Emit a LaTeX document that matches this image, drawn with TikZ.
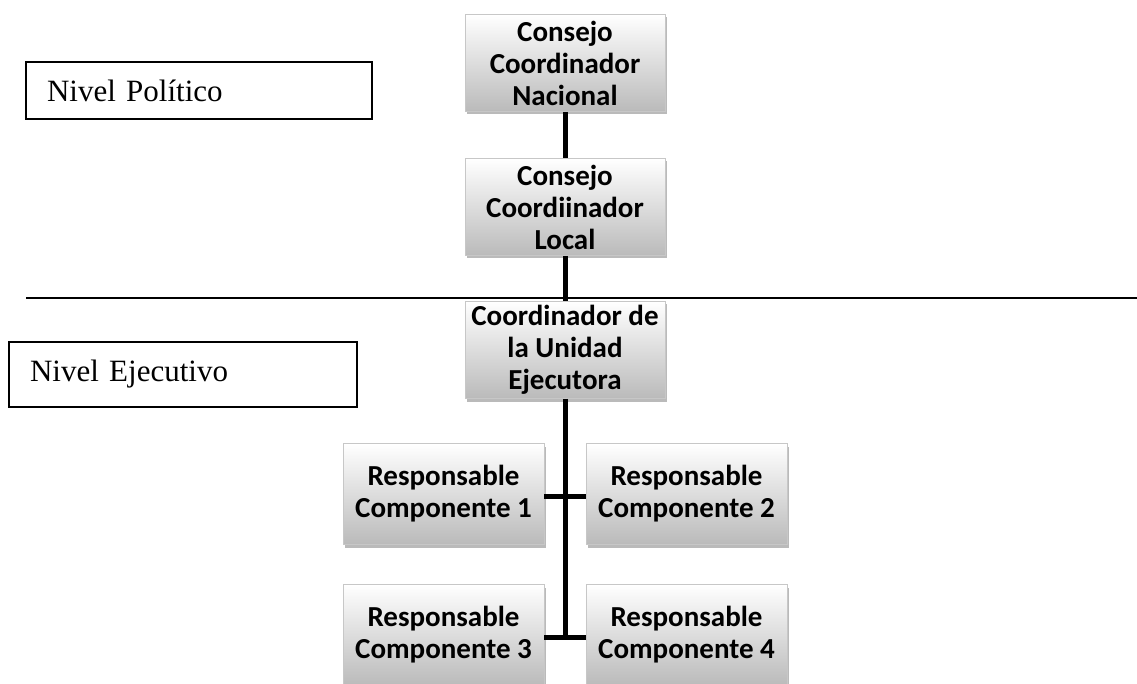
\documentclass[tikz,border=0pt]{standalone}
\usepackage{fontspec}
\setmainfont{Liberation Serif}
\newfontfamily\calibri{Carlito}
\usetikzlibrary{shadows}
\begin{document}
\begin{tikzpicture}[x=1pt,y=-1pt,
  orgbox/.style={rectangle, minimum width=200pt, minimum height=97pt, inner sep=2pt,
    top color=white, bottom color=black!27, draw=black!22, line width=0.6pt,
    drop shadow={shadow xshift=2pt, shadow yshift=-3pt, fill=black!45, opacity=0.6},
    align=center, font=\calibri\bfseries\fontsize{29}{32}\selectfont},
  compbox/.style={orgbox, minimum width=201pt, minimum height=101pt},
  levelbox/.style={rectangle, draw=black, line width=1.3pt, inner xsep=21pt,
    align=left, font=\fontsize{31}{34}\selectfont},
  link/.style={line width=5pt, black}]
\useasboundingbox (0,0) rectangle (1137,684);
\fill[white] (0,0) rectangle (1137,684);

% divider
\draw[line width=1.3pt] (26,298) -- (1137,298);

% level labels
\node[levelbox, minimum width=346pt, minimum height=57pt, text width=304pt] (np) at (199,90.5) {Nivel Político};
\node[levelbox, minimum width=348pt, minimum height=65pt, text width=306pt] (ne) at (183,374.5) {Nivel Ejecutivo};

% trunk end
\coordinate (trunkend) at (566,637);

% org boxes
\node[orgbox] (a) at (565,63) {Consejo\\Coordinador\\Nacional};
\node[orgbox] (b) at (565,207) {Consejo\\Coordiinador\\Local};
\node[orgbox] (c) at (565,350) {Coordinador de\\la Unidad\\Ejecutora};
\node[compbox] (r1) at (443.5,494) {Responsable\\Componente 1};
\node[compbox] (r2) at (686.5,494) {Responsable\\Componente 2};
\node[compbox] (r3) at (443.5,635) {Responsable\\Componente 3};
\node[compbox] (r4) at (686.5,635) {Responsable\\Componente 4};

% connectors
\draw[link] (a.south) -- (b.north);
\draw[link] (b.south) -- (c.north);
\draw[link] (c.south) -- (c.south |- trunkend);
\draw[link] (r1.east |- 0,496) -- (r2.west |- 0,496);
\draw[link] (r3.east |- trunkend) -- (r4.west |- trunkend);
\end{tikzpicture}
\end{document}
